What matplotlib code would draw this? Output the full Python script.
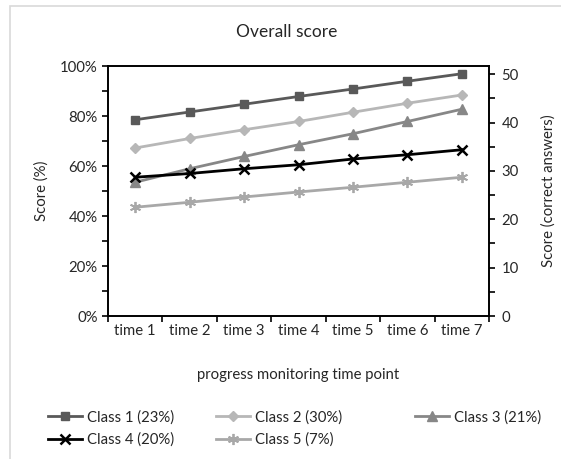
import matplotlib
matplotlib.use("Agg")
import matplotlib.pyplot as plt
from matplotlib.patches import Rectangle
import numpy as np

plt.rcParams['font.family'] = ['Lato', 'DejaVu Sans']

categories = ["time 1", "time 2", "time 3", "time 4", "time 5", "time 6", "time 7"]
class1 = [78.5, 81.6, 84.7, 87.8, 90.8, 93.9, 96.9]
class2 = [67.2, 71.0, 74.5, 77.8, 81.5, 85.1, 88.4]
class3 = [53.5, 58.9, 63.8, 68.5, 72.9, 77.8, 82.7]
class4 = [55.5, 57.0, 58.9, 60.5, 62.8, 64.5, 66.5]
class5 = [43.5, 45.5, 47.6, 49.6, 51.5, 53.5, 55.5]
labels = ["Class 1 (23%)", "Class 2 (30%)", "Class 3 (21%)", "Class 4 (20%)", "Class 5 (7%)"]

FS = 10.7
fig = plt.figure(figsize=(5.61, 4.59), dpi=100)
W, H = 561, 459
ax = fig.add_axes([108 / W, 1 - 316 / H, (489 - 108) / W, (316 - 66) / H])

# border
fig.patches.append(Rectangle((10 / W, -0.1), 1.2, 1 - 6 / H + 0.1, transform=fig.transFigure,
                             fill=False, edgecolor='#d9d9d9', linewidth=1.2, zorder=0))

x = np.arange(len(categories))
styles = [
    dict(color='#595959', marker='s', markersize=5.5, lw=2.0),
    dict(color='#b7b7b7', marker='D', markersize=5, lw=2.0),
    dict(color='#878787', marker='^', markersize=6.5, lw=2.0),
    dict(color='#000000', marker='x', markersize=7, lw=2.0, mew=1.8),
    dict(color='#a8a8a8', marker=(6, 2, 0), markersize=8, lw=2.0, mew=1.3),
]
series = [class1, class2, class3, class4, class5]
handles = []
for s, lab, st in zip(series, labels, styles):
    h, = ax.plot(x, s, label=lab, **st)
    handles.append(h)

ax.set_xlim(-0.5, 6.5)
ax.set_ylim(0, 100)
ax.set_yticks(np.arange(0, 101, 20))
ax.set_yticklabels([f"{v}%" for v in range(0, 101, 20)])
ax.set_yticks(np.arange(10, 100, 20), minor=True)
ax.set_xticks(np.arange(-0.5, 7, 1))
ax.set_xticklabels([])
ax.set_xticks(x, minor=True)
ax.set_xticklabels(categories, minor=True)
ax.tick_params(axis='x', which='minor', length=0, pad=6, labelsize=FS, colors='#262626')
ax.tick_params(axis='x', which='major', length=4, width=1.2, direction='out')
ax.tick_params(axis='y', which='both', length=4, width=1.2, direction='out', labelsize=FS,
               labelcolor='#262626')
for sp in ax.spines.values():
    sp.set_linewidth(1.2)

ax2 = ax.twinx()
ax2.set_ylim(0, 51.7)
ax2.set_yticks(np.arange(0, 51, 10))
ax2.set_yticks(np.arange(5, 51, 10), minor=True)
ax2.tick_params(axis='y', which='both', length=4, width=1.2, direction='out', labelsize=FS,
                labelcolor='#262626', pad=5)
for sp in ax2.spines.values():
    sp.set_linewidth(1.2)

fig.text(287 / W, 1 - 32 / H, "Overall score", ha='center', va='center', fontsize=12.5, color='#262626')
fig.text(42 / W, 1 - 191 / H, "Score (%)", ha='center', va='center', rotation=90, fontsize=FS,
         color='#262626')
fig.text(549 / W, 1 - 191 / H, "Score (correct answers)", ha='center', va='center', rotation=90,
         fontsize=FS, color='#262626')
fig.text(298 / W, 1 - 375 / H, "progress monitoring time point", ha='center', va='center',
         fontsize=FS, color='#262626')

columns = [[0, 3], [1, 4], [2]]
col_x = [48, 216, 415]
for idxs, cx in zip(columns, col_x):
    leg = fig.legend([handles[i] for i in idxs], [labels[i] for i in idxs],
                     loc='upper left', bbox_to_anchor=(cx / W, 1 - 410 / H), frameon=False,
                     fontsize=FS, handlelength=2.3, handletextpad=0.3,
                     labelspacing=0.55, borderaxespad=0, borderpad=0)
    for t in leg.get_texts():
        t.set_color('#262626')

fig.savefig("out.png", dpi=100)
